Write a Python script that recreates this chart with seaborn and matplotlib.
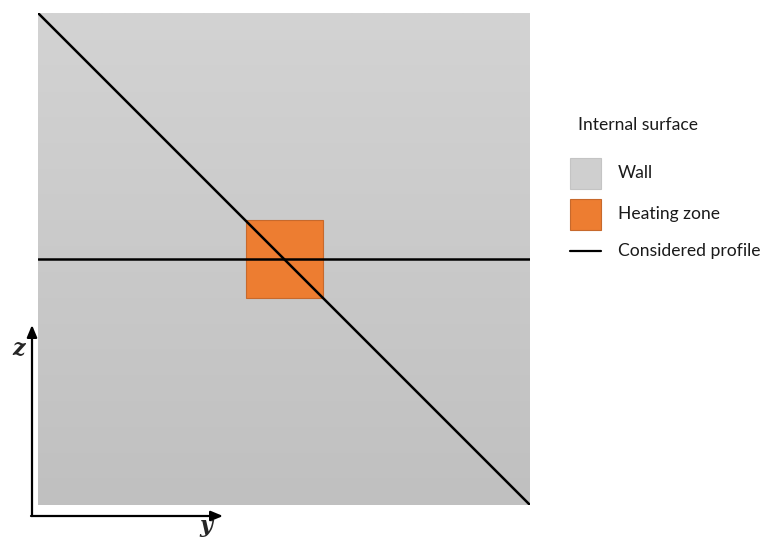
import numpy as np
import pandas as pd
import matplotlib
matplotlib.use("Agg")
import matplotlib.pyplot as plt
import seaborn as sns
from matplotlib.patches import Rectangle

sns.set_theme(style="white")
plt.rcParams['font.family'] = ['Lato', 'DejaVu Sans']

# ---- data (normalised wall coordinates) ----
wall_y = [0.0, 1.0]
wall_z = [0.0, 1.0]
zone_y = [0.422, 0.579]
zone_z = [0.421, 0.579]
profile_names = ["horizontal", "horizontal", "diagonal", "diagonal"]
profile_y = [0.0, 1.0, 0.0, 1.0]
profile_z = [0.5, 0.5, 1.0, 0.0]
legend_title = "Internal surface"
legend_labels = ["Wall", "Heating zone", "Considered profile"]
axis_labels = ["z", "y"]

W, H = 763, 537
fig = plt.figure(figsize=(W / 100, H / 100), dpi=100)
fig.patch.set_facecolor("white")

# wall axes (pixel box 38..530 x 13..505)
ax = fig.add_axes([38 / W, (H - 505) / H, 492 / W, 492 / H])
grad = np.linspace(192, 211, 256)[:, None] / 255.0
ax.imshow(np.repeat(grad[:, :, None], 3, axis=2), extent=[wall_y[0], wall_y[1], wall_z[0], wall_z[1]],
          origin="lower", aspect="auto", zorder=0)
ax.add_patch(Rectangle((zone_y[0], zone_z[0]), zone_y[1] - zone_y[0], zone_z[1] - zone_z[0],
                       facecolor="#ED7D31", edgecolor="#C7692C", lw=0.8, zorder=2))
df = pd.DataFrame({"profile": profile_names, "y": profile_y, "z": profile_z})
sns.lineplot(data=df, x="y", y="z", units="profile", estimator=None, color="black",
             lw=1.8, ax=ax, zorder=3, sort=False)
ax.set_xlim(wall_y)
ax.set_ylim(wall_z)
ax.set_axis_off()

# overlay in pixel coordinates
ov = fig.add_axes([0, 0, 1, 1], facecolor="none")
ov.set_xlim(0, W)
ov.set_ylim(H, 0)
ov.set_axis_off()

arrow = dict(arrowstyle="-|>,head_length=0.6,head_width=0.25", color="black", lw=1.6,
             shrinkA=0, shrinkB=0)
ov.annotate("", xy=(32, 325), xytext=(32, 516), arrowprops=arrow)
ov.annotate("", xy=(223, 516), xytext=(31, 516), arrowprops=arrow)
ov.text(19, 349, axis_labels[0], fontsize=16, fontweight="bold", fontstyle="italic",
        family="DejaVu Serif", ha="center", va="center")
ov.text(206, 526, axis_labels[1], fontsize=16, fontweight="bold", fontstyle="italic",
        family="DejaVu Serif", ha="center", va="center")

# legend
fs = 12.6
ov.text(578, 125, legend_title, fontsize=fs, ha="left", va="center", color="#1a1a1a")
ov.add_patch(Rectangle((570, 158), 31, 31, facecolor="#CFCFCF", edgecolor="#C4C4C4", lw=0.8))
ov.add_patch(Rectangle((570, 199), 31, 31, facecolor="#ED7D31", edgecolor="#C7692C", lw=0.8))
ov.plot([570, 601], [251, 251], color="black", lw=1.6)
for yy, lab in zip([173, 214, 251], legend_labels):
    ov.text(618, yy, lab, fontsize=fs, ha="left", va="center", color="#1a1a1a")

fig.savefig("out.png", dpi=100)
